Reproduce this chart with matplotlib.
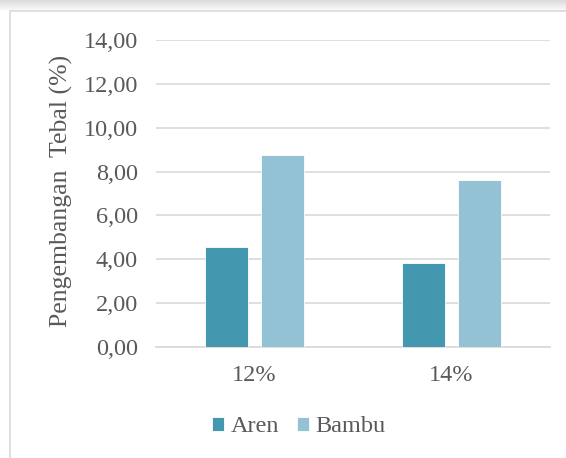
import matplotlib
matplotlib.use("Agg")
import matplotlib.pyplot as plt
from matplotlib.patches import Rectangle
import numpy as np

categories = ["12%", "14%"]
aren = [4.57, 3.84]
bambu = [8.74, 7.60]
series_names = ["Aren", "Bambu"]
y_ticks = [0, 2, 4, 6, 8, 10, 12, 14]
y_tick_labels = ["0,00", "2,00", "4,00", "6,00", "8,00", "10,00", "12,00", "14,00"]

plt.rcParams["font.family"] = ["Liberation Serif", "DejaVu Serif"]
text_color = "#595959"
c_aren = "#4397AF"
c_bambu = "#93C2D4"
fs = 17.5

fig = plt.figure(figsize=(5.66, 4.58), dpi=100)
fig.patch.set_facecolor("white")

# window shadow strip across the top and the chart frame
for i in range(10):
    g = 0.86 + 0.012 * i
    fig.add_artist(Rectangle((0, 1 - (i + 1) / 458), 1, 1 / 458,
                             transform=fig.transFigure, facecolor=(g, g, g),
                             edgecolor="none", zorder=0))
fig.add_artist(Rectangle((9.5 / 566, -0.05), 1.0, 1 - 11 / 458 + 0.05,
                         transform=fig.transFigure, facecolor="white",
                         edgecolor="#D9D9D9", linewidth=1.2, zorder=0))

ax = fig.add_axes([156 / 566, 1 - 347 / 458, 394 / 566, 307 / 458])
x = np.arange(len(categories))
w = 0.222
off = 0.142
ax.bar(x - off, aren, w, color=c_aren, edgecolor="white", linewidth=0.6,
       label=series_names[0], zorder=3)
ax.bar(x + off, bambu, w, color=c_bambu, edgecolor="white", linewidth=0.6,
       label=series_names[1], zorder=3)

ax.set_xlim(-0.5, 1.5)
ax.set_ylim(0, 14)
ax.set_yticks(y_ticks)
ax.set_yticklabels(y_tick_labels)
ax.set_xticks(x)
ax.set_xticklabels(categories)
ax.yaxis.grid(True, color="#D9D9D9", linewidth=1.2, zorder=0)
ax.set_axisbelow(True)
for s in ["top", "right", "left"]:
    ax.spines[s].set_visible(False)
ax.spines["bottom"].set_color("#D9D9D9")
ax.spines["bottom"].set_linewidth(1.2)
ax.tick_params(axis="both", length=0, labelsize=fs, colors=text_color)
ax.tick_params(axis="y", pad=13)
ax.tick_params(axis="x", pad=13)
ax.set_ylabel("Pengembangan  Tebal (%)", fontsize=18.5, color=text_color,
              va="center")
ax.yaxis.set_label_coords(-0.241, 0.508)

leg = fig.legend(loc="center", bbox_to_anchor=(299 / 566, 1 - 427 / 458), ncol=2,
                 frameon=False, fontsize=fs, handlelength=0.5, handleheight=0.5,
                 handletextpad=0.25, columnspacing=0.75, labelcolor=text_color)

fig.savefig("out.png", dpi=100, facecolor="white")
